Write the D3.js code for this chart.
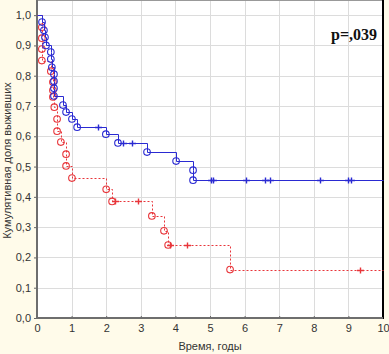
<!DOCTYPE html>
<html><head><meta charset="utf-8">
<script src="https://cdn.jsdelivr.net/npm/d3@7"></script>
<style>body{margin:0;background:#fffbea;}svg{display:block;}</style>
</head><body>
<svg id="c" width="389" height="354"></svg>
<script>
const xTicks = [0,1,2,3,4,5,6,7,8,9,10];
const yTicks = [0,0.1,0.2,0.3,0.4,0.5,0.6,0.7,0.8,0.9,1.0];

const blueEventTimes = [0.145,0.2,0.23,0.26,0.40,0.40,0.43,0.49,0.49,0.49,0.49,0.75,0.84,1.01,1.16,1.99,2.34,3.18,4.02,4.51,4.51];
const blueEventSurv  = [0.977,0.95,0.927,0.90,0.878,0.855,0.828,0.805,0.782,0.759,0.733,0.703,0.68,0.657,0.63,0.607,0.578,0.548,0.518,0.488,0.455];
const blueCensTimes  = [1.76,2.49,2.75,5.03,5.09,6.04,6.59,6.73,8.18,8.99,9.08];

const redEventTimes = [0.14,0.14,0.14,0.14,0.40,0.46,0.46,0.46,0.50,0.58,0.58,0.69,0.84,0.84,1.01,2.0,2.17,3.32,3.67,3.79,5.58];
const redEventSurv  = [0.96,0.924,0.888,0.85,0.815,0.779,0.752,0.73,0.696,0.657,0.617,0.581,0.541,0.502,0.462,0.425,0.385,0.337,0.288,0.241,0.16];
const redCensTimes  = [2.24,2.92,3.83,4.34,9.34];

const pText = "p=,039";
const xTitle = "Время, годы";
const yTitle = "Кумулятивная доля выживших";

const L=37, R=383, T=0, B=318;
const svg = d3.select("#c");
const x = d3.scaleLinear().domain([0,10]).range([L,R]);
const y = d3.scaleLinear().domain([0,1.05]).range([B,T]);

svg.append("rect").attr("x",L).attr("y",T).attr("width",R-L).attr("height",B-T).attr("fill","#fff");

// grid
svg.append("g").selectAll("line").data(xTicks.slice(1,-1)).join("line")
  .attr("x1",d=>Math.round(x(d))+0.5).attr("x2",d=>Math.round(x(d))+0.5).attr("y1",T).attr("y2",B)
  .attr("stroke","#dcdcdc").attr("stroke-width",1);
svg.append("g").selectAll("line").data(yTicks.slice(1).concat([1.05])).join("line")
  .attr("x1",L).attr("x2",R).attr("y1",d=>Math.round(y(d))+0.5).attr("y2",d=>Math.round(y(d))+0.5)
  .attr("stroke","#dcdcdc").attr("stroke-width",1);

const fmt = d=>d3.format(".1f")(d).replace(".",",");
const ax = svg.append("g").attr("transform",`translate(0,${B})`)
  .call(d3.axisBottom(x).tickValues(xTicks).tickFormat(d3.format("d")).tickSize(-2).tickPadding(6));
const ay = svg.append("g").attr("transform",`translate(${L},0)`)
  .call(d3.axisLeft(y).tickValues(yTicks).tickFormat(fmt).tickSize(3).tickPadding(3));
[ax,ay].forEach(a=>{
  a.select(".domain").remove();
  a.selectAll("text").attr("font-family","'Liberation Sans',Arial,sans-serif").attr("font-size",11).attr("fill","#333");
  a.selectAll("line").attr("stroke","#666");
});

// frame
svg.append("line").attr("x1",L).attr("x2",R).attr("y1",0.5).attr("y2",0.5).attr("stroke","#999");
svg.append("line").attr("x1",R).attr("x2",R).attr("y1",0).attr("y2",B+1).attr("stroke","#000").attr("stroke-width",2);
svg.append("line").attr("x1",L).attr("x2",L).attr("y1",0).attr("y2",B+1).attr("stroke","#6e6e6e").attr("stroke-width",2);
svg.append("line").attr("x1",L-1).attr("x2",R).attr("y1",B).attr("y2",B).attr("stroke","#6e6e6e").attr("stroke-width",2);

function survAt(times, surv, t){
  let s=1; for(let i=0;i<times.length;i++){ if(times[i]<=t) s=surv[i]; } return s;
}
const px = v=>Math.round(v)+0.5;
function stepPath(times, surv){
  const pts=[[0,1]]; let s=1;
  for(let i=0;i<times.length;i++){ pts.push([times[i],s]); s=surv[i]; pts.push([times[i],s]); }
  pts.push([10,s]);
  return d3.line().x(d=>px(x(d[0]))).y(d=>px(y(d[1])))(pts);
}
function drawGroup(times, surv, cens, color, dash){
  const g=svg.append("g");
  g.append("path").attr("d",stepPath(times,surv)).attr("fill","none").attr("stroke",color)
    .attr("stroke-width",1).attr("stroke-dasharray",dash);
  g.selectAll("circle").data(times.map((t,i)=>[t,surv[i]])).join("circle")
    .attr("cx",d=>x(d[0])).attr("cy",d=>y(d[1])).attr("r",3.3)
    .attr("fill","none").attr("stroke",color).attr("stroke-width",1.1);
  const c = cens.map(t=>[t,survAt(times,surv,t)]);
  g.selectAll("path.h").data(c).join("path").attr("class","h")
    .attr("d",d=>{const cx=px(x(d[0])),cy=px(y(d[1]));return `M${cx-3.5},${cy}H${cx+3.5}M${cx},${cy-3}V${cy+3}`;})
    .attr("stroke",color).attr("stroke-width",1.4);
}
drawGroup(redEventTimes, redEventSurv, redCensTimes, "#e8353a", "2,2");
drawGroup(blueEventTimes, blueEventSurv, blueCensTimes, "#2a2ad2", null);

svg.append("text").attr("x",377).attr("y",40).attr("text-anchor","end")
  .attr("font-family","'Liberation Serif','Times New Roman',serif").attr("font-weight","bold")
  .attr("font-size",16).attr("fill","#111").text(pText);
svg.append("text").attr("x",x(5)).attr("y",350).attr("text-anchor","middle")
  .attr("font-family","'Liberation Sans',Arial,sans-serif").attr("font-size",11).attr("fill","#333").text(xTitle);
svg.append("text").attr("transform",`translate(11,${y(0.52)}) rotate(-90)`).attr("text-anchor","middle")
  .attr("font-family","'Liberation Sans',Arial,sans-serif").attr("font-size",11).attr("fill","#333").text(yTitle);
</script>
</body></html>
